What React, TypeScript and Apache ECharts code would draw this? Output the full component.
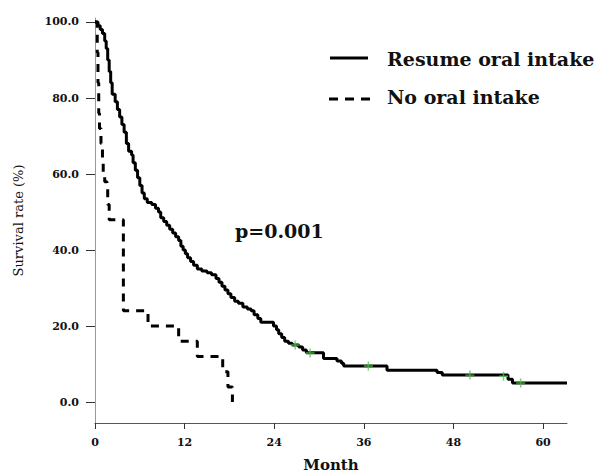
import React, { useEffect, useRef } from "react";
import * as echarts from "echarts";

// Kaplan-Meier curve: [month, survival % after that time]
const resumeCurve: [number, number][] = [
  [0, 100], [0.4, 99], [0.7, 98], [1.0, 97], [1.3, 95], [1.5, 93], [1.7, 90], [1.9, 87],
  [2.1, 84], [2.3, 81], [2.7, 79], [3.0, 77], [3.3, 75], [3.6, 73], [3.9, 71], [4.2, 68],
  [4.5, 66], [4.9, 65], [5.1, 63], [5.4, 61], [5.7, 59], [6.0, 57], [6.3, 55], [6.6, 53.5],
  [7.0, 52.5], [7.6, 52], [8.1, 51], [8.5, 50], [8.8, 48.5], [9.2, 47.5], [9.6, 46.5],
  [10.0, 45.5], [10.4, 44.5], [10.8, 43.5], [11.2, 42.5], [11.5, 41], [11.8, 40], [12.1, 39],
  [12.4, 38], [12.8, 37], [13.2, 36], [13.7, 35], [14.3, 34.5], [15.0, 34], [15.6, 33.5],
  [16.2, 32.5], [16.6, 31.5], [17.0, 30.5], [17.4, 29.5], [17.8, 28.5], [18.2, 27.5],
  [18.7, 26.5], [19.2, 26], [19.8, 25], [20.4, 24.5], [20.9, 24], [21.3, 23], [21.8, 22],
  [22.2, 21], [23.9, 20], [24.3, 19], [24.6, 18], [25.0, 17], [25.4, 16], [25.9, 15.5],
  [26.4, 15], [27.3, 14.5], [27.8, 13.7], [28.3, 13], [30.6, 11.5], [32.4, 10.8], [33.0, 10.2],
  [33.3, 9.5], [39.1, 8.4], [45.8, 7.8], [46.5, 7.1], [55.3, 6.0], [55.9, 5.0], [63.2, 5.0],
];

const noIntakeCurve: [number, number][] = [
  [0, 100], [0.3, 92], [0.4, 84], [0.5, 76], [0.6, 72], [0.8, 68], [1.0, 64], [1.1, 60],
  [1.3, 58], [1.6, 56], [1.7, 52], [1.9, 48], [3.8, 24], [7.1, 20], [11.2, 16], [13.7, 12],
  [17.1, 8], [17.8, 4], [18.4, 0],
];

const censorMarks: [number, number][] = [
  [26.8, 15], [28.8, 12.9], [36.6, 9.5], [50.2, 7.1], [54.7, 6.8], [57.0, 5.0],
];

const xTicks = [0, 12, 24, 36, 48, 60];
const yTicks = [0, 20, 40, 60, 80, 100];
const seriesNames = ["Resume oral intake", "No oral intake"];
const pValueText = "p=0.001";
const xAxisName = "Month";
const yAxisName = "Survival rate (%)";

const SERIF = "DejaVu Serif";
const PLUS = "path://M4.2,0H5.8V4.2H10V5.8H5.8V10H4.2V5.8H0V4.2H4.2Z";

export default function App() {
  const ref = useRef<HTMLDivElement>(null);
  useEffect(() => {
    if (!ref.current) return;
    const chart = echarts.init(ref.current, null, { renderer: "svg" });
    const labelStyle = {
      fontFamily: SERIF,
      fontWeight: "bold" as const,
      fontSize: 11,
      color: "#111",
    };
    chart.setOption({
      animation: false,
      backgroundColor: "#fff",
      grid: { left: 95, right: 30, top: 18, bottom: 52, containLabel: false, outerBoundsMode: "none" },
      xAxis: {
        type: "value",
        min: 0,
        max: 63.2,
        name: xAxisName,
        nameLocation: "middle",
        nameGap: 34,
        nameTextStyle: { fontFamily: SERIF, fontWeight: "bold", fontSize: 15, color: "#111" },
        axisLine: { show: true, onZero: false, lineStyle: { color: "#555", width: 1 } },
        axisTick: { show: true, customValues: xTicks, length: 6, lineStyle: { color: "#333" } },
        axisLabel: { customValues: xTicks, margin: 14, ...labelStyle },
        splitLine: { show: false },
      },
      yAxis: {
        type: "value",
        min: -5.5,
        max: 101.05,
        name: yAxisName,
        nameLocation: "middle",
        nameGap: 70,
        nameTextStyle: { fontFamily: SERIF, fontSize: 13, color: "#111" },
        axisLine: { show: true, onZero: false, lineStyle: { color: "#999", width: 1 } },
        axisTick: { show: true, customValues: yTicks, length: 9, lineStyle: { color: "#333" } },
        axisLabel: {
          customValues: yTicks,
          margin: 16,
          formatter: (v: number) => Number(v).toFixed(1),
          ...labelStyle,
        },
        splitLine: { show: false },
      },
      series: [
        {
          name: seriesNames[0],
          type: "line",
          step: "end",
          data: resumeCurve,
          showSymbol: false,
          lineStyle: { color: "#000", width: 3 },
          z: 3,
        },
        {
          name: seriesNames[1],
          type: "line",
          step: "end",
          data: noIntakeCurve,
          showSymbol: false,
          lineStyle: { color: "#000", width: 3, type: [8, 7] },
          z: 3,
        },
        {
          type: "scatter",
          data: censorMarks,
          symbol: PLUS,
          symbolSize: 9,
          itemStyle: { color: "#4fc94f" },
          z: 5,
        },
      ],
      graphic: [
        {
          type: "line",
          shape: { x1: 330, y1: 58, x2: 368, y2: 58 },
          style: { stroke: "#000", lineWidth: 3 },
        },
        {
          type: "text",
          style: {
            x: 387, y: 59, text: seriesNames[0], verticalAlign: "middle",
            font: `bold 19px "${SERIF}"`, fill: "#111",
          },
        },
        {
          type: "line",
          shape: { x1: 329, y1: 99, x2: 370, y2: 99 },
          style: { stroke: "#000", lineWidth: 3, lineDash: [9, 7] },
        },
        {
          type: "text",
          style: {
            x: 387, y: 97, text: seriesNames[1], verticalAlign: "middle",
            font: `bold 19px "${SERIF}"`, fill: "#111",
          },
        },
        {
          type: "text",
          style: {
            x: 235, y: 231, text: pValueText, verticalAlign: "middle",
            font: `bold 19px "${SERIF}"`, fill: "#111",
          },
        },
      ],
    });
    return () => chart.dispose();
  }, []);
  return (
    <div
      ref={ref}
      style={{ position: "fixed", left: 0, top: 0, width: 597, height: 475, background: "#fff" }}
    />
  );
}
